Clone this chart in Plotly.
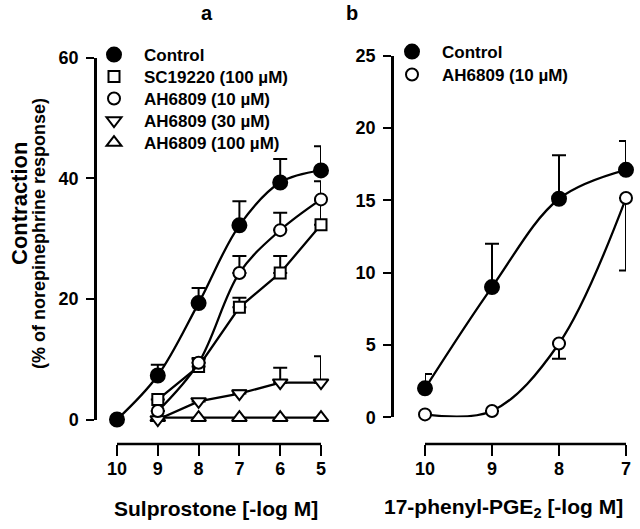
import plotly.graph_objects as go

# ---------------- data ----------------
doses_a = [10, 9, 8, 7, 6, 5]
doses_a_treat = [9, 8, 7, 6, 5]
tick_labels_a = ["10", "9", "8", "7", "6", "5"]

control_a = [0, 7.3, 19.3, 32.2, 39.3, 41.3]
control_a_err = [0, 1.8, 2.5, 4.0, 3.9, 4.0]

sc19220_a = [3.3, 8.8, 18.6, 24.3, 32.3]
sc19220_a_err = [0, 1.2, 1.6, 2.8, 4.0]

ah10_a = [1.4, 9.4, 24.3, 31.4, 36.5]
ah10_a_err = [0, 0.8, 2.8, 2.9, 3.0]

ah30_a = [0, 3.0, 4.3, 6.1, 6.1]
ah30_a_err = [0, 0, 0.5, 2.5, 4.4]

ah100_a = [0.3, 0.3, 0.3, 0.3, 0.3]

doses_b = [10, 9, 8, 7]
tick_labels_b = ["10", "9", "8", "7"]
control_b = [2.0, 9.0, 15.1, 17.1]
control_b_err = [1.0, 3.0, 3.0, 2.0]
ah10_b = [0.2, 0.44, 5.1, 15.15]
ah10_b_err_minus = [0, 0, 1.05, 5.0]

yticks_a = [0, 20, 40, 60]
yticks_b = [0, 5, 10, 15, 20, 25]

legend_names_a = ["Control", "SC19220 (100 µM)", "AH6809 (10 µM)",
                  "AH6809 (30 µM)", "AH6809 (100 µM)"]
legend_names_b = ["Control", "AH6809 (10 µM)"]

# ---------------- style helpers ----------------
W, H = 640, 529
FONT = "Liberation Sans, Arial, sans-serif"


def px(x):
    return x / W


def py(y):
    return 1 - y / H


def err(arr, minus=None):
    if minus is None:
        return dict(type="data", symmetric=False, array=arr,
                    arrayminus=[0] * len(arr), color="black",
                    thickness=2, width=7)
    return dict(type="data", symmetric=False, array=[0] * len(minus),
                arrayminus=minus, color="black", thickness=2, width=7)


fig = go.Figure()


def series(x, y, symbol, fill, shape, xa, ya, e=None, size=12):
    fig.add_trace(go.Scatter(
        x=x, y=y, mode="lines+markers", xaxis=xa, yaxis=ya,
        line=dict(color="black", width=2.3, shape=shape, smoothing=1),
        marker=dict(symbol=symbol, size=size, color=fill,
                    line=dict(color="black", width=2)),
        error_y=e, cliponaxis=False, showlegend=False))


# panel a
series(doses_a_treat, ah100_a, "triangle-up", "white", "linear", "x", "y", size=13)
series(doses_a_treat, ah30_a, "triangle-down", "white", "linear", "x", "y", err(ah30_a_err), size=13)
series(doses_a_treat, sc19220_a, "square", "white", "linear", "x", "y", err(sc19220_a_err), size=11)
series(doses_a_treat, ah10_a, "circle", "white", "spline", "x", "y", err(ah10_a_err), size=12)
series(doses_a, control_a, "circle", "black", "spline", "x", "y", err(control_a_err), size=14)

# panel b
series(doses_b, ah10_b, "circle", "white", "spline", "x2", "y2", err(None, ah10_b_err_minus), size=12)
series(doses_b, control_b, "circle", "black", "spline", "x2", "y2", err(control_b_err), size=14)

# legends: one legend box per row so the row spacing matches
legend_font = dict(family=FONT, size=17, color="black", weight="bold")
leg_symbols_a = [("circle", "black", 14), ("square", "white", 11),
                 ("circle", "white", 12), ("triangle-down", "white", 13),
                 ("triangle-up", "white", 13)]
leg_rows_a = [55, 77, 99, 121, 143]
leg_symbols_b = [("circle", "black", 14), ("circle", "white", 12)]
leg_rows_b = [52, 75]

legend_layout = {}
entries = ([(n, s, 84, r) for n, s, r in zip(legend_names_a, leg_symbols_a, leg_rows_a)]
           + [(n, s, 382, r) for n, s, r in zip(legend_names_b, leg_symbols_b, leg_rows_b)])
for i, (name, (sym, fill, size), lx, ly) in enumerate(entries):
    key = "legend" if i == 0 else f"legend{i + 1}"
    fig.add_trace(go.Scatter(
        x=[None], y=[None], mode="markers", name=name, legend=key,
        marker=dict(symbol=sym, size=size, color=fill,
                    line=dict(color="black", width=2)),
        showlegend=True))
    legend_layout[key] = dict(x=px(lx), y=py(ly), xanchor="left",
                              yanchor="middle", font=legend_font,
                              itemwidth=50, bgcolor="rgba(0,0,0,0)",
                              borderwidth=0)

tickfont = dict(family=FONT, size=18, color="black", weight="bold")
axis_common = dict(linecolor="black", linewidth=2.5,
                   ticks="outside", tickcolor="black", tickwidth=2,
                   showgrid=False, zeroline=False, tickfont=tickfont,
                   anchor="free", automargin=False, fixedrange=True)

fig.update_layout(
    width=W, height=H,
    margin=dict(l=0, r=0, t=0, b=0, pad=0, autoexpand=False),
    paper_bgcolor="white", plot_bgcolor="white",
    hovermode=False,
    xaxis=dict(domain=[px(117), px(321)], range=[10, 5], position=py(444),
               tickvals=doses_a, ticktext=tick_labels_a, ticklen=11,
               ticklabelstandoff=-3, showline=False, **axis_common),
    yaxis=dict(domain=[py(419.5), py(57.7)], range=[0, 60], position=px(95),
               tickvals=yticks_a, ticklen=8, ticklabelstandoff=4,
               showline=True, **axis_common),
    xaxis2=dict(domain=[px(425), px(626)], range=[10, 7], position=py(444),
                tickvals=doses_b, ticktext=tick_labels_b, ticklen=11,
                ticklabelstandoff=-3, showline=False, **axis_common),
    yaxis2=dict(domain=[py(417.3), py(55.5)], range=[0, 25], position=px(392),
                tickvals=yticks_b, ticklen=8, ticklabelstandoff=4,
                showline=True, **axis_common),
    **legend_layout,
)

# separate bracket-style x axis lines spanning first to last tick
fig.add_shape(type="line", xref="x", yref="paper",
              x0=doses_a[0], x1=doses_a[-1], y0=py(444), y1=py(444),
              line=dict(color="black", width=2.5))
fig.add_shape(type="line", xref="x2", yref="paper",
              x0=doses_b[0], x1=doses_b[-1], y0=py(444), y1=py(444),
              line=dict(color="black", width=2.5))

ann_font = dict(family=FONT, color="black", weight="bold")
annotations = [
    dict(text="Contraction", x=px(19), y=py(204), textangle=-90,
         font=dict(size=22, **ann_font)),
    dict(text="(% of norepinephrine response)", x=px(39), y=py(234),
         textangle=-90, font=dict(size=18, **ann_font)),
    dict(text="Sulprostone [-log M]", x=px(216), y=py(508),
         font=dict(size=21, **ann_font)),
    dict(text="17-phenyl-PGE<sub>2</sub> [-log M]", x=px(503), y=py(508),
         font=dict(size=21, **ann_font)),
    dict(text="a", x=px(207), y=py(13), font=dict(size=20, **ann_font)),
    dict(text="b", x=px(352), y=py(13), font=dict(size=20, **ann_font)),
]
for a in annotations:
    a.update(xref="paper", yref="paper", showarrow=False,
             xanchor="center", yanchor="middle")
fig.update_layout(annotations=annotations)

fig.write_html(
    "out.html",
    config={"displayModeBar": False, "staticPlot": False},
    post_script="document.body.style.margin='0';document.body.style.padding='0';",
)
